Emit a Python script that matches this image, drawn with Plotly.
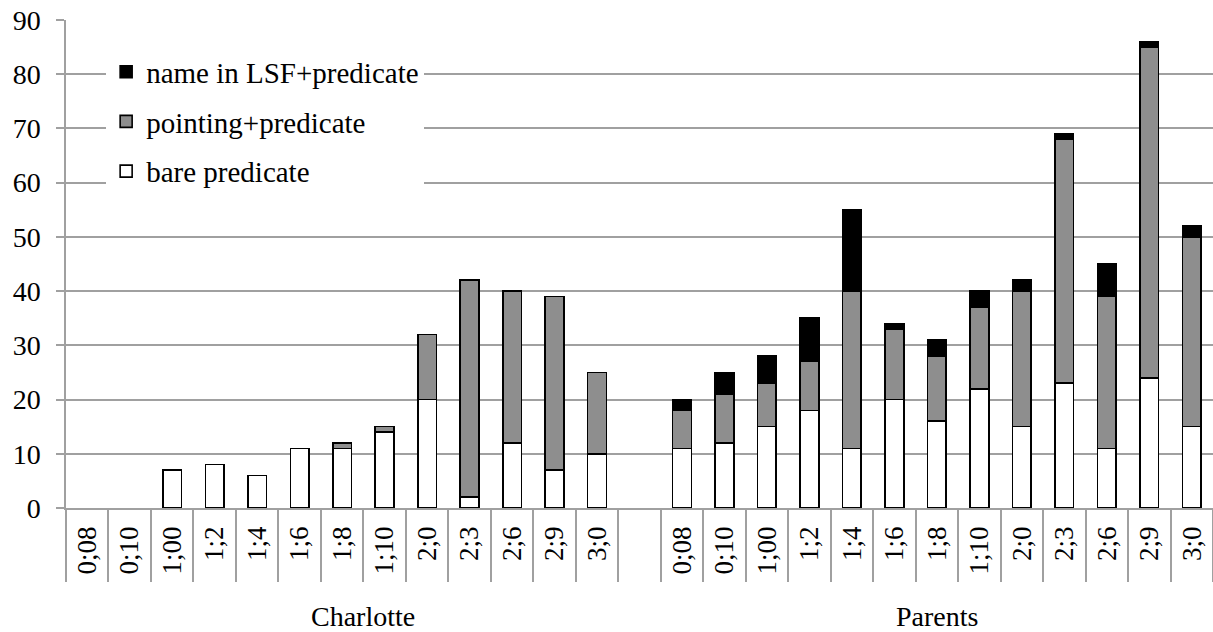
import plotly.graph_objects as go

# ---- data ----
charlotte_labels = ["0;08", "0;10", "1;00", "1;2", "1;4", "1;6", "1;8", "1;10", "2;0", "2;3", "2;6", "2;9", "3;0"]
parents_labels = ["0;08", "0;10", "1;00", "1;2", "1;4", "1;6", "1;8", "1;10", "2;0", "2;3", "2;6", "2;9", "3;0"]
groups = ["Charlotte", "Parents"]

charlotte_bare = [0, 0, 7, 8, 6, 11, 11, 14, 20, 2, 12, 7, 10]
charlotte_pointing = [0, 0, 0, 0, 0, 0, 1, 1, 12, 40, 28, 32, 15]
charlotte_name = [0, 0, 0, 0, 0, 0, 0, 0, 0, 0, 0, 0, 0]

parents_bare = [11, 12, 15, 18, 11, 20, 16, 22, 15, 23, 11, 24, 15]
parents_pointing = [7, 9, 8, 9, 29, 13, 12, 15, 25, 45, 28, 61, 35]
parents_name = [2, 4, 5, 8, 15, 1, 3, 3, 2, 1, 6, 1, 2]

series_names = ["bare predicate", "pointing+predicate", "name in LSF+predicate"]
series_colors = ["#ffffff", "#8e8e8e", "#000000"]
legend_ranks = [3, 2, 1]

# ---- layout of categories: Charlotte block, one empty slot, Parents block ----
n_c = len(charlotte_labels)
n_p = len(parents_labels)
x_c = list(range(n_c))
x_p = [n_c + 1 + i for i in range(n_p)]
x_all = x_c + [n_c] + x_p
labels_all = charlotte_labels + [""] + parents_labels
total = len(x_all)

def merged(c, p):
    vals = c + [None] + p
    return [v if v else None for v in vals]

series_values = [
    merged(charlotte_bare, parents_bare),
    merged(charlotte_pointing, parents_pointing),
    merged(charlotte_name, parents_name),
]

FONT = "Liberation Serif, Times New Roman, DejaVu Serif, serif"
GRID = "#a0a0a0"

fig = go.Figure()
for name, color, vals, rank in zip(series_names, series_colors, series_values, legend_ranks):
    fig.add_trace(go.Bar(
        x=x_all, y=vals, name=name, legendgroup=name, legendrank=rank,
        marker=dict(color=color, line=dict(color="#000000", width=1.6)),
    ))

group_bounds = [-0.5, n_c + 0.5, total - 0.5]
group_centers = [(group_bounds[0] + group_bounds[1]) / 2, (group_bounds[1] + group_bounds[2]) / 2]

fig.update_layout(
    width=1213, height=632,
    margin=dict(l=66, r=0, t=20, b=124, autoexpand=False),
    paper_bgcolor="white", plot_bgcolor="white",
    barmode="stack", bargap=0.56,
    font=dict(family=FONT, size=28, color="black"),
    showlegend=True,
    legend=dict(
        x=0.035, y=0.946, xanchor="left", yanchor="top",
        bgcolor="white", borderwidth=0,
        traceorder="grouped", tracegroupgap=9,
        font=dict(family=FONT, size=29, color="black"),
    ),
    xaxis=dict(
        range=[-0.5, total - 0.5], automargin=False,
        tickmode="array", tickvals=x_all, ticktext=labels_all,
        tickangle=-90, ticks="", ticklabelstandoff=6,
        showline=True, linecolor=GRID, linewidth=1.5,
        showgrid=False, zeroline=False,
        tickfont=dict(family=FONT, size=27, color="black"),
        minor=dict(ticks="outside", tick0=-0.5, dtick=1, ticklen=72,
                   tickcolor=GRID, tickwidth=1.5, showgrid=False),
    ),
    xaxis2=dict(
        overlaying="x", anchor="y", side="bottom", automargin=False,
        range=[-0.5, total - 0.5],
        tickmode="array", tickvals=group_bounds,
        ticks="outside", ticklen=130, tickcolor=GRID, tickwidth=1.5,
        showticklabels=False, showgrid=False, zeroline=False, showline=False,
    ),
    yaxis=dict(
        range=[0, 90], dtick=10, tick0=0, automargin=False,
        showgrid=True, gridcolor=GRID, gridwidth=1.5,
        showline=True, linecolor=GRID, linewidth=1.5,
        ticks="outside", ticklen=8, tickcolor=GRID, tickwidth=1.5,
        ticklabelstandoff=10,
        zeroline=False,
        tickfont=dict(family=FONT, size=28, color="black"),
    ),
)

for g, cx in zip(groups, group_centers):
    fig.add_annotation(
        x=cx, y=(508 - 634) / 488, xref="x", yref="paper",
        text=g, showarrow=False, xanchor="center", yanchor="bottom",
        font=dict(family=FONT, size=28, color="black"),
    )

fig.write_html(
    "out.html",
    config={"displayModeBar": False},
    post_script="document.body.style.margin='0';document.body.style.overflow='hidden';",
)
